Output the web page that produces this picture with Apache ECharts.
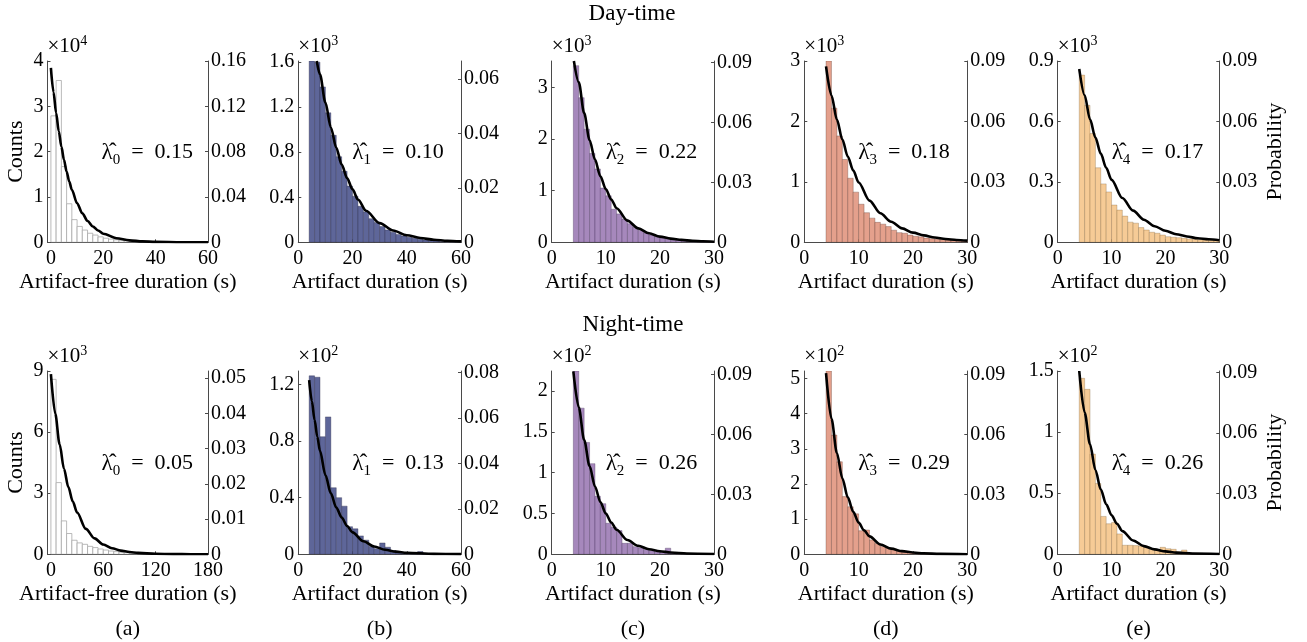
<!DOCTYPE html>
<html>
<head>
<meta charset="utf-8">
<script src="https://cdn.jsdelivr.net/npm/echarts@6/dist/echarts.min.js"></script>
<style>
html, body { margin: 0; padding: 0; background: #fff; }
#chart-0 { width: 1307px; height: 642px; }
</style>
</head>
<body>
<div id="chart-0"></div>
<script>
// histogram heights (left axis units, already divided by the x10^n factor)
var dayA_counts = [2.79, 3.57, 1.67, 0.85, 0.5, 0.35, 0.27, 0.2, 0.16, 0.12, 0.09, 0.07, 0.055, 0.045, 0.035, 0.03, 0.025, 0.02, 0.017, 0.014, 0.012, 0.01, 0.008, 0.007, 0.006, 0.005, 0.004, 0.003, 0.003, 0.002];
var dayB_counts = [1.62, 1.6, 1.38, 1.15, 0.95, 0.76, 0.63, 0.5, 0.41, 0.32, 0.27, 0.21, 0.175, 0.14, 0.11, 0.09, 0.07, 0.055, 0.045, 0.035, 0.028, 0.02, 0.015, 0.012, 0.008, 0.006, 0.004, 0.003];
var dayC_counts = [3.42, 2.8, 2.19, 1.72, 1.42, 1.05, 0.9, 0.64, 0.55, 0.45, 0.36, 0.29, 0.23, 0.18, 0.14, 0.11, 0.09, 0.07, 0.055, 0.045, 0.035, 0.03, 0.024, 0.02, 0.016, 0.012];
var dayD_counts = [3.05, 2.22, 1.76, 1.37, 1.06, 0.83, 0.63, 0.49, 0.4, 0.33, 0.3, 0.26, 0.2, 0.16, 0.15, 0.12, 0.1, 0.09, 0.07, 0.06, 0.05, 0.045, 0.04, 0.035, 0.03, 0.025];
var dayE_counts = [0.83, 0.68, 0.54, 0.37, 0.29, 0.25, 0.185, 0.16, 0.13, 0.1, 0.095, 0.073, 0.061, 0.05, 0.045, 0.036, 0.028, 0.025, 0.023, 0.02, 0.017, 0.015, 0.013, 0.011, 0.01, 0.009];
var nightA_counts = [8.59, 3.52, 1.64, 1.02, 0.69, 0.56, 0.49, 0.39, 0.33, 0.26, 0.21, 0.16, 0.13, 0.1, 0.08, 0.06, 0.05, 0.04, 0.03, 0.025, 0.02, 0.015, 0.012, 0.01, 0.008, 0.006, 0.005, 0.004, 0.003, 0.002];
var nightB_counts = [1.26, 1.25, 0.83, 0.97, 0.47, 0.4, 0.34, 0.195, 0.18, 0.13, 0.1, 0.055, 0.04, 0.08, 0.05, 0.026, 0.016, 0.012, 0.007, 0.005, 0.019, 0.004, 0.004, 0.003, 0.003, 0.002, 0.002, 0.002];
var nightC_counts = [2.3, 1.79, 1.37, 1.11, 0.71, 0.62, 0.38, 0.33, 0.29, 0.135, 0.135, 0.094, 0.08, 0.06, 0.045, 0.03, 0.025, 0.075, 0.016, 0.012, 0.01, 0.006, 0.006, 0.004, 0.004, 0.003];
var nightD_counts = [5.25, 3.39, 2.63, 1.64, 1.35, 1.15, 0.67, 0.69, 0.41, 0.31, 0.22, 0.18, 0.15, 0.1, 0.07, 0.05, 0.04, 0.03, 0.025, 0.02, 0.015, 0.012, 0.01, 0.008, 0.006, 0.005];
var nightE_counts = [1.44, 1.35, 0.82, 0.58, 0.31, 0.25, 0.26, 0.167, 0.074, 0.074, 0.071, 0.068, 0.055, 0.04, 0.035, 0.057, 0.046, 0.041, 0.02, 0.035, 0.01, 0.008, 0.008, 0.005, 0.005, 0.004];

var dayBinStart = [0, 4, 4, 4, 4];
var dayBinWidth = [2, 2, 1, 1, 1];
var nightBinStart = [0, 4, 4, 4, 4];
var nightBinWidth = [6, 2, 1, 1, 1];

// fitted exponential curves
var dayA_fitX = [0, 1, 2, 3, 4, 5, 6, 7, 8, 10, 12, 14, 16, 18, 20, 25, 30, 35, 40, 50, 60];
var dayA_fitY = [3.85, 3.31, 2.85, 2.45, 2.11, 1.82, 1.56, 1.34, 1.16, 0.86, 0.64, 0.47, 0.35, 0.26, 0.19, 0.09, 0.043, 0.02, 0.01, 0.002, 0.0005];
var dayB_fitX = [6.8, 8, 10, 12, 14, 16, 18, 20, 22, 25, 30, 35, 40, 45, 50, 55, 60];
var dayB_fitY = [1.61, 1.49, 1.24, 1.02, 0.84, 0.69, 0.57, 0.47, 0.38, 0.28, 0.17, 0.105, 0.063, 0.038, 0.023, 0.014, 0.008];
var dayC_fitX = [4.1, 5, 6, 7, 8, 9, 10, 11, 12, 14, 16, 18, 20, 22, 24, 26, 28, 30];
var dayC_fitY = [3.51, 3.1, 2.5, 1.98, 1.6, 1.28, 1.03, 0.83, 0.66, 0.42, 0.27, 0.175, 0.11, 0.072, 0.046, 0.03, 0.019, 0.012];
var dayD_fitX = [4, 5, 6, 7, 8, 9, 10, 12, 14, 16, 18, 20, 22, 24, 26, 28, 30];
var dayD_fitY = [2.91, 2.43, 2.03, 1.7, 1.42, 1.19, 0.99, 0.69, 0.48, 0.34, 0.23, 0.16, 0.114, 0.08, 0.055, 0.039, 0.027];
var dayE_fitX = [4, 5, 6, 7, 8, 9, 10, 12, 14, 16, 18, 20, 22, 24, 26, 28, 30];
var dayE_fitY = [0.86, 0.73, 0.61, 0.52, 0.44, 0.37, 0.31, 0.22, 0.157, 0.112, 0.08, 0.057, 0.04, 0.029, 0.02, 0.015, 0.01];
var nightA_fitX = [0, 5, 10, 15, 20, 25, 30, 40, 50, 60, 70, 80, 90, 100, 120, 140, 160, 180];
var nightA_fitY = [8.85, 6.9, 5.4, 4.2, 3.3, 2.6, 2.05, 1.25, 0.78, 0.48, 0.3, 0.18, 0.11, 0.07, 0.025, 0.01, 0.004, 0.002];
var nightB_fitX = [4, 5, 6, 7, 8, 10, 12, 14, 16, 18, 20, 24, 28, 32, 36, 40, 50, 60];
var nightB_fitY = [1.23, 1.08, 0.95, 0.83, 0.73, 0.56, 0.43, 0.33, 0.26, 0.2, 0.155, 0.092, 0.055, 0.032, 0.019, 0.011, 0.003, 0.001];
var nightC_fitX = [4, 5, 6, 7, 8, 9, 10, 11, 12, 14, 16, 18, 20, 22, 25, 30];
var nightC_fitY = [2.24, 1.8, 1.4, 1.08, 0.83, 0.64, 0.5, 0.39, 0.3, 0.175, 0.104, 0.062, 0.037, 0.022, 0.01, 0.003];
var nightD_fitX = [4, 5, 6, 7, 8, 9, 10, 11, 12, 14, 16, 18, 20, 22, 25, 30];
var nightD_fitY = [5.15, 3.85, 2.88, 2.16, 1.62, 1.21, 0.9, 0.68, 0.51, 0.28, 0.16, 0.09, 0.05, 0.028, 0.012, 0.003];
var nightE_fitX = [4, 5, 6, 7, 8, 9, 10, 11, 12, 14, 16, 18, 20, 22, 25, 30];
var nightE_fitY = [1.5, 1.16, 0.9, 0.69, 0.53, 0.41, 0.32, 0.25, 0.19, 0.113, 0.067, 0.04, 0.024, 0.014, 0.006, 0.002];

// axes
var dayXMin = [-1.3, 0, 0, 0, 0];
var dayXMax = [60, 60, 30, 30, 30];
var dayXTicks = [[0, 20, 40, 60], [0, 20, 40, 60], [0, 10, 20, 30], [0, 10, 20, 30], [0, 10, 20, 30]];
var nightXMin = [-3.9, 0, 0, 0, 0];
var nightXMax = [180, 60, 30, 30, 30];
var nightXTicks = [[0, 60, 120, 180], [0, 20, 40, 60], [0, 10, 20, 30], [0, 10, 20, 30], [0, 10, 20, 30]];
var dayLeftMax = [4, 1.61, 3.51, 3, 0.9];
var dayLeftTicks = [[0, 1, 2, 3, 4], [0, 0.4, 0.8, 1.2, 1.6], [0, 1, 2, 3], [0, 1, 2, 3], [0, 0.3, 0.6, 0.9]];
var dayRightMax = [0.16, 0.0666, 0.0908, 0.09, 0.09];
var dayRightTicks = [[0, 0.04, 0.08, 0.12, 0.16], [0, 0.02, 0.04, 0.06], [0, 0.03, 0.06, 0.09], [0, 0.03, 0.06, 0.09], [0, 0.03, 0.06, 0.09]];
var nightLeftMax = [9, 1.294, 2.245, 5.21, 1.5];
var nightLeftTicks = [[0, 3, 6, 9], [0, 0.4, 0.8, 1.2], [0, 0.5, 1, 1.5, 2], [0, 1, 2, 3, 4, 5], [0, 0.5, 1, 1.5]];
var nightRightMax = [0.052, 0.0806, 0.0917, 0.0917, 0.0908];
var nightRightTicks = [[0, 0.01, 0.02, 0.03, 0.04, 0.05], [0, 0.02, 0.04, 0.06, 0.08], [0, 0.03, 0.06, 0.09], [0, 0.03, 0.06, 0.09], [0, 0.03, 0.06, 0.09]];
var dayExp = ['4', '3', '3', '3', '3'];
var nightExp = ['3', '2', '2', '2', '2'];
var dayLambda = ['0.15', '0.10', '0.22', '0.18', '0.17'];
var nightLambda = ['0.05', '0.13', '0.26', '0.29', '0.26'];
var xNames = ['Artifact-free duration (s)', 'Artifact duration (s)', 'Artifact duration (s)', 'Artifact duration (s)', 'Artifact duration (s)'];
var panelLetters = ['(a)', '(b)', '(c)', '(d)', '(e)'];

var dayCounts = [dayA_counts, dayB_counts, dayC_counts, dayD_counts, dayE_counts];
var nightCounts = [nightA_counts, nightB_counts, nightC_counts, nightD_counts, nightE_counts];
var dayFitX = [dayA_fitX, dayB_fitX, dayC_fitX, dayD_fitX, dayE_fitX];
var dayFitY = [dayA_fitY, dayB_fitY, dayC_fitY, dayD_fitY, dayE_fitY];
var nightFitX = [nightA_fitX, nightB_fitX, nightC_fitX, nightD_fitX, nightE_fitX];
var nightFitY = [nightA_fitY, nightB_fitY, nightC_fitY, nightD_fitY, nightE_fitY];

// look
var font = "'Liberation Serif', 'Times New Roman', serif";
var axisColor = '#4a4a4a';
var barFill = ['#ffffff', '#5e6699', '#a688bc', '#e4a08c', '#f6cb96'];
var barEdge = ['#a8a8a8', 'rgba(40,40,70,0.45)', 'rgba(60,40,80,0.4)', 'rgba(90,50,40,0.4)', 'rgba(110,80,40,0.35)'];
var colLeft = [47.5, 298.3, 551.7, 804.3, 1057.7];
var colWidth = [160.5, 162.7, 162.3, 163, 161.6];
var rowTop = [61, 371];
var rowHeight = [181.3, 183.3];

var chart = echarts.init(document.getElementById('chart-0'));

function makeRenderer(fill, edge) {
    return function(params, api) {
        var p0 = api.coord([api.value(0), api.value(2)]);
        var p1 = api.coord([api.value(1), 0]);
        var cs = params.coordSys;
        var rect = echarts.graphic.clipRectByRect({
            x: p0[0], y: p0[1], width: p1[0] - p0[0], height: p1[1] - p0[1]
        }, { x: cs.x, y: cs.y, width: cs.width, height: cs.height });
        if (!rect) return;
        return {
            type: 'rect',
            shape: rect,
            style: { fill: fill, stroke: edge, lineWidth: 0.8 }
        };
    };
}

var option = {
    animation: false,
    backgroundColor: '#fff',
    title: [],
    grid: [],
    xAxis: [],
    yAxis: [],
    series: []
};

option.title.push({
    text: 'Day-time', left: 632, top: 2, textAlign: 'center', padding: 0,
    textStyle: { fontFamily: font, fontSize: 23, fontWeight: 'normal', color: '#000' }
});
option.title.push({
    text: 'Night-time', left: 633, top: 313, textAlign: 'center', padding: 0,
    textStyle: { fontFamily: font, fontSize: 23, fontWeight: 'normal', color: '#000' }
});

var extraAxes = [];

for (var r = 0; r < 2; r++) {
    for (var c = 0; c < 5; c++) {
        var p = r * 5 + c;
        var counts = r == 0 ? dayCounts[c] : nightCounts[c];
        var start = r == 0 ? dayBinStart[c] : nightBinStart[c];
        var width = r == 0 ? dayBinWidth[c] : nightBinWidth[c];
        var fx = r == 0 ? dayFitX[c] : nightFitX[c];
        var fy = r == 0 ? dayFitY[c] : nightFitY[c];

        option.grid.push({
            left: colLeft[c], top: rowTop[r], width: colWidth[c], height: rowHeight[r],
            containLabel: false, outerBoundsMode: 'none'
        });

        var xt = r == 0 ? dayXTicks[c] : nightXTicks[c];
        option.xAxis.push({
            type: 'value', gridIndex: p,
            min: r == 0 ? dayXMin[c] : nightXMin[c],
            max: r == 0 ? dayXMax[c] : nightXMax[c],
            axisLine: { show: true, onZero: false, lineStyle: { color: axisColor, width: 1 } },
            axisTick: { show: true, inside: true, length: 3, customValues: xt, lineStyle: { color: axisColor } },
            axisLabel: { show: true, customValues: xt, margin: 6, fontFamily: font, fontSize: 20, color: '#000' },
            splitLine: { show: false },
            name: xNames[c],
            nameLocation: 'middle',
            nameGap: 29,
            nameTextStyle: { fontFamily: font, fontSize: 22, color: '#000' }
        });

        var lt = r == 0 ? dayLeftTicks[c] : nightLeftTicks[c];
        var rt = r == 0 ? dayRightTicks[c] : nightRightTicks[c];
        var ex = r == 0 ? dayExp[c] : nightExp[c];
        option.yAxis.push({
            type: 'value', gridIndex: p, position: 'left',
            min: 0, max: r == 0 ? dayLeftMax[c] : nightLeftMax[c],
            axisLine: { show: true, onZero: false, lineStyle: { color: axisColor, width: 1 } },
            axisTick: { show: true, inside: true, length: 3, customValues: lt, lineStyle: { color: axisColor } },
            axisLabel: { show: true, customValues: lt, margin: 4, fontFamily: font, fontSize: 20, color: '#000' },
            splitLine: { show: false },
            name: '{a|\u00d710}{b|' + ex + '}',
            nameLocation: 'end',
            nameGap: 2,
            nameTextStyle: {
                align: 'left',
                rich: {
                    a: { fontFamily: font, fontSize: 21, fontWeight: 'normal', color: '#000', lineHeight: 25 },
                    b: { fontFamily: font, fontSize: 14, fontWeight: 'normal', color: '#000', lineHeight: 14, verticalAlign: 'top' }
                }
            }
        });
        option.yAxis.push({
            type: 'value', gridIndex: p, position: 'right',
            min: 0, max: r == 0 ? dayRightMax[c] : nightRightMax[c],
            axisLine: { show: true, onZero: false, lineStyle: { color: axisColor, width: 1 } },
            axisTick: { show: true, inside: true, length: 3, customValues: rt, lineStyle: { color: axisColor } },
            axisLabel: { show: true, customValues: rt, margin: 3, fontFamily: font, fontSize: 20, color: '#000' },
            splitLine: { show: false },
            name: c == 4 ? 'Probability' : '',
            nameLocation: 'middle',
            nameRotate: 90,
            nameGap: 45,
            nameTextStyle: { fontFamily: font, fontSize: 22, color: '#000' }
        });
        if (c == 0) {
            extraAxes.push({
                type: 'value', gridIndex: p, position: 'left', min: 0, max: 1,
                axisLine: { show: false }, axisTick: { show: false }, axisLabel: { show: false },
                splitLine: { show: false },
                name: 'Counts', nameLocation: 'middle', nameGap: 20,
                nameTextStyle: { fontFamily: font, fontSize: 22, color: '#000' }
            });
        }

        var bins = [];
        for (var i = 0; i < counts.length; i++) {
            bins.push([start + i * width, start + (i + 1) * width, counts[i]]);
        }
        option.series.push({
            type: 'custom',
            xAxisIndex: p,
            yAxisIndex: 2 * p,
            renderItem: makeRenderer(barFill[c], barEdge[c]),
            encode: { x: [0, 1], y: 2 },
            data: bins,
            clip: true,
            silent: true,
            z: 2
        });

        var line = [];
        for (var j = 0; j < fx.length; j++) {
            line.push([fx[j], fy[j]]);
        }
        option.series.push({
            type: 'line',
            xAxisIndex: p,
            yAxisIndex: 2 * p,
            data: line,
            showSymbol: false,
            smooth: 0.3,
            smoothMonotone: 'x',
            clip: true,
            silent: true,
            lineStyle: { color: '#000', width: 2.6 },
            z: 5
        });

        var lam = r == 0 ? dayLambda[c] : nightLambda[c];
        option.title.push({
            text: '{l|\u03bb\u0302}{s|' + c + '}{e|\u2002=\u2002' + lam + '}',
            left: colLeft[c] + 54,
            top: rowTop[r] + rowHeight[r] / 2 - 14,
            padding: 0,
            textStyle: {
                fontWeight: 'normal',
                rich: {
                    l: { fontFamily: font, fontSize: 23, fontWeight: 'normal', color: '#000', lineHeight: 30 },
                    s: { fontFamily: font, fontSize: 15, fontWeight: 'normal', color: '#000', lineHeight: 15, verticalAlign: 'bottom' },
                    e: { fontFamily: font, fontSize: 22, fontWeight: 'normal', color: '#000', lineHeight: 30 }
                }
            }
        });

        if (r == 1) {
            option.title.push({
                text: panelLetters[c],
                left: colLeft[c] + colWidth[c] / 2,
                top: 618,
                textAlign: 'center',
                padding: 0,
                textStyle: { fontFamily: font, fontSize: 22, fontWeight: 'normal', color: '#000' }
            });
        }
    }
}

for (var k = 0; k < extraAxes.length; k++) {
    option.yAxis.push(extraAxes[k]);
}

chart.setOption(option);
</script>
</body>
</html>
